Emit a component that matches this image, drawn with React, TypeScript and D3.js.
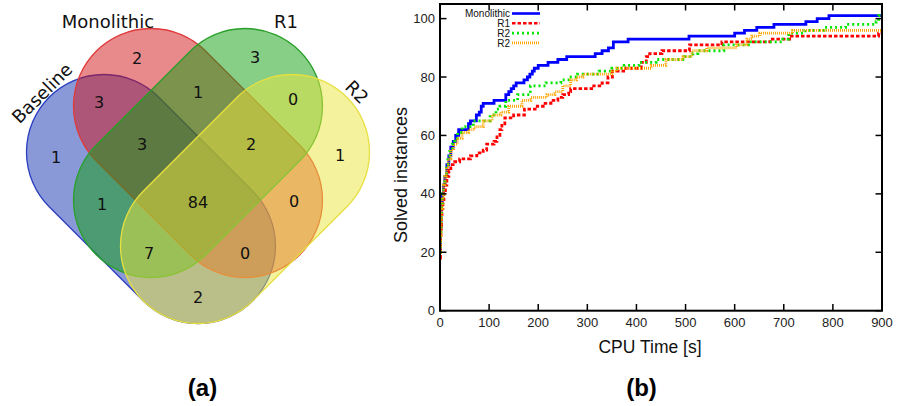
import React from "react";
import * as d3 from "d3";

// ---------- Venn data ----------
const vennSets = ["Baseline", "Monolithic", "R1", "R2"];
const vennFills = ["#1331b0", "#d11418", "#0f9d0f", "#ebe53d"];
const vennStrokes = ["#2a3cc0", "#e03a3a", "#2aa02a", "#e6e040"];
// region labels (set membership string) and counts
const vennRegions = ["M", "R1", "BM", "MR1", "R1R2", "B", "BMR1", "MR1R2", "R2", "BR1", "BMR1R2", "MR2", "BR1R2", "BMR2", "BR2"];
const vennCounts = [2, 3, 3, 1, 0, 1, 3, 2, 1, 1, 84, 0, 7, 0, 2];

// ---------- Line chart data ----------
const xTicks = [0, 100, 200, 300, 400, 500, 600, 700, 800, 900];
const yTicks = [0, 20, 40, 60, 80, 100];
const seriesNames = ["Monolithic", "R1", "R2", "R2"];

const monoT = [0, 1, 2, 3, 5, 7, 10, 14, 18, 22, 27, 32, 38, 58, 62, 74, 80, 84, 88, 110, 134, 140, 145, 150, 155, 171, 178, 183, 188, 192, 200, 220, 240, 258, 316, 330, 343, 353, 383, 507, 600, 620, 645, 680, 745, 768, 792, 900];
const monoV = [20, 28, 33, 37, 40, 43, 46, 50, 53, 56, 58, 60, 62, 64, 65, 67, 68, 70, 71, 72, 74, 75, 76, 77, 78, 79, 80, 81, 82, 83, 84, 85, 86, 87, 88, 89, 90, 92, 93, 94, 95, 96, 97, 98, 99, 100, 101, 101];

const r1T = [0, 1, 2, 3, 4, 6, 8, 11, 14, 18, 22, 30, 40, 62, 75, 88, 95, 110, 116, 122, 126, 132, 150, 172, 198, 214, 226, 240, 250, 262, 266, 313, 330, 342, 351, 378, 410, 420, 427, 452, 508, 574, 672, 712, 893, 900];
const r1V = [18, 25, 29, 32, 35, 38, 40, 43, 46, 48, 50, 51, 52, 53, 54, 55, 57, 58, 60, 62, 64, 66, 67, 69, 70, 71, 72, 73, 74, 75, 76, 77, 78, 80, 82, 83, 85, 87, 88, 89, 91, 92, 93, 94, 95, 95];

const r2aT = [0, 1, 2, 3, 5, 7, 10, 13, 16, 20, 25, 30, 36, 45, 68, 102, 114, 122, 134, 158, 184, 216, 246, 263, 280, 324, 350, 375, 405, 440, 498, 515, 525, 578, 628, 698, 710, 743, 782, 826, 888, 893, 900];
const r2aV = [20, 27, 32, 36, 40, 44, 47, 50, 53, 55, 57, 59, 61, 63, 65, 67, 69, 70, 72, 74, 77, 78, 79, 80, 81, 82, 83, 84, 85, 86, 87, 88, 89, 91, 92, 93, 95, 96, 97, 98, 99, 101, 101];

const r2bT = [0, 1, 2, 3, 5, 7, 10, 13, 17, 22, 28, 35, 45, 58, 70, 88, 106, 124, 140, 167, 185, 198, 218, 234, 250, 266, 278, 291, 350, 360, 430, 460, 495, 513, 543, 604, 625, 635, 651, 718, 900];
const r2bV = [20, 26, 31, 35, 39, 43, 46, 49, 52, 55, 57, 59, 61, 62, 63, 65, 67, 68, 70, 72, 73, 73, 74, 75, 77, 79, 80, 81, 82, 83, 84, 86, 87, 89, 90, 91, 93, 94, 95, 96, 96];

const seriesT = [monoT, r1T, r2aT, r2bT];
const seriesV = [monoV, r1V, r2aV, r2bV];
const seriesColors = ["#0000ff", "#ff0000", "#00e600", "#ffa500"];
const seriesDash = ["none", "3.5,2", "2,3", "1,1"];

// layout
const R = 77.5;
const SEG = 94 * Math.SQRT2;
const shapeCenters: [number, number, number][] = [
  [151, 199, 45],
  [198, 153, 45],
  [198, 153, -45],
  [245, 199, -45],
];
const regionPos: Record<string, [number, number]> = {
  M: [137, 58],
  R1: [255, 57],
  BM: [99, 102],
  MR1: [198, 92],
  R1R2: [293, 99],
  B: [56, 157],
  BMR1: [142, 144],
  MR1R2: [251, 144],
  R2: [340, 155],
  BR1: [102, 204],
  BMR1R2: [198, 202],
  MR2: [294, 201],
  BR1R2: [149, 253],
  BMR2: [245, 253],
  BR2: [198, 297],
};

export default function App() {
  const x = d3.scaleLinear().domain([0, 900]).range([440, 882]);
  const y = d3.scaleLinear().domain([0, 105]).range([310.7, 4]);
  const line = d3
    .line<[number, number]>()
    .x((d) => x(d[0]))
    .y((d) => y(d[1]))
    .curve(d3.curveStepAfter);

  const font = "'DejaVu Sans', sans-serif";
  const arial = "'Liberation Sans', Arial, sans-serif";

  return (
    <svg
      width={897}
      height={406}
      style={{ position: "absolute", left: 0, top: 0, background: "#fff" }}
    >
      {/* Venn */}
      <g>
        {shapeCenters.map(([cx, cy, rot], i) => (
          <rect
            key={i}
            x={-(SEG / 2 + R)}
            y={-R}
            width={SEG + 2 * R}
            height={2 * R}
            rx={R}
            ry={R}
            transform={`translate(${cx},${cy}) rotate(${rot})`}
            fill={vennFills[i]}
            fillOpacity={0.5}
            stroke={vennStrokes[i]}
            strokeWidth={1.3}
          />
        ))}
        {vennRegions.map((k, i) => (
          <text
            key={k}
            x={regionPos[k][0]}
            y={regionPos[k][1]}
            textAnchor="middle"
            dominantBaseline="central"
            fontFamily={font}
            fontSize={16}
            fill="#111"
          >
            {vennCounts[i]}
          </text>
        ))}
        <text x={108} y={28} textAnchor="middle" fontFamily={font} fontSize={18} fill="#111">
          {vennSets[1]}
        </text>
        <text x={286} y={28} textAnchor="middle" fontFamily={font} fontSize={18} fill="#111">
          {vennSets[2]}
        </text>
        <text
          transform="translate(42,93) rotate(-45)"
          textAnchor="middle"
          dominantBaseline="central"
          fontFamily={font}
          fontSize={18}
          fill="#111"
        >
          {vennSets[0]}
        </text>
        <text
          transform="translate(357,92) rotate(45)"
          textAnchor="middle"
          dominantBaseline="central"
          fontFamily={font}
          fontSize={18}
          fill="#111"
        >
          {vennSets[3]}
        </text>
      </g>

      {/* Line chart */}
      <defs>
        <clipPath id="plotclip">
          <rect x={440} y={4} width={442} height={306.7} />
        </clipPath>
      </defs>
      <g clipPath="url(#plotclip)">
        {seriesT.map((ts, si) => {
          const pts: [number, number][] = ts.map((t, j) => [t, seriesV[si][j]]);
          return (
            <path
              key={si}
              d={line(pts) || ""}
              fill="none"
              stroke={seriesColors[si]}
              strokeWidth={2.8}
              strokeDasharray={seriesDash[si]}
            />
          );
        })}
      </g>
      {/* ticks */}
      {xTicks.map((t) => (
        <g key={"x" + t}>
          <line x1={x(t)} x2={x(t)} y1={310.7} y2={304} stroke="#000" strokeWidth={1.5} />
          <line x1={x(t)} x2={x(t)} y1={4} y2={10.5} stroke="#000" strokeWidth={1.5} />
          <text x={x(t)} y={327} textAnchor="middle" fontFamily={arial} fontSize={13} fill="#222">
            {t}
          </text>
        </g>
      ))}
      {yTicks.map((v) => (
        <g key={"y" + v}>
          <line x1={440} x2={446.5} y1={y(v)} y2={y(v)} stroke="#000" strokeWidth={1.5} />
          <line x1={882} x2={875.5} y1={y(v)} y2={y(v)} stroke="#000" strokeWidth={1.5} />
          <text x={435} y={y(v)} dy="0.35em" textAnchor="end" fontFamily={arial} fontSize={13} fill="#222">
            {v}
          </text>
        </g>
      ))}
      <rect x={440} y={4} width={442} height={306.7} fill="none" stroke="#000" strokeWidth={2} />
      {/* legend */}
      {seriesNames.map((n, i) => (
        <g key={"lg" + i}>
          <text x={510} y={17.3 + i * 9.8} textAnchor="end" fontFamily={arial} fontSize={10} fill="#111">
            {n}
          </text>
          <line
            x1={512}
            x2={540}
            y1={13.5 + i * 9.8}
            y2={13.5 + i * 9.8}
            stroke={seriesColors[i]}
            strokeWidth={2.6}
            strokeDasharray={seriesDash[i]}
          />
        </g>
      ))}
      <text x={650} y={353} textAnchor="middle" fontFamily={arial} fontSize={17.5} fill="#111">
        CPU Time [s]
      </text>
      <text
        transform="translate(407,175) rotate(-90)"
        textAnchor="middle"
        fontFamily={arial}
        fontSize={18}
        fill="#111"
      >
        Solved instances
      </text>

      <text x={202.5} y={396} textAnchor="middle" fontFamily={arial} fontWeight="bold" fontSize={24} fill="#000">
        (a)
      </text>
      <text x={641.5} y={396} textAnchor="middle" fontFamily={arial} fontWeight="bold" fontSize={24} fill="#000">
        (b)
      </text>
    </svg>
  );
}
